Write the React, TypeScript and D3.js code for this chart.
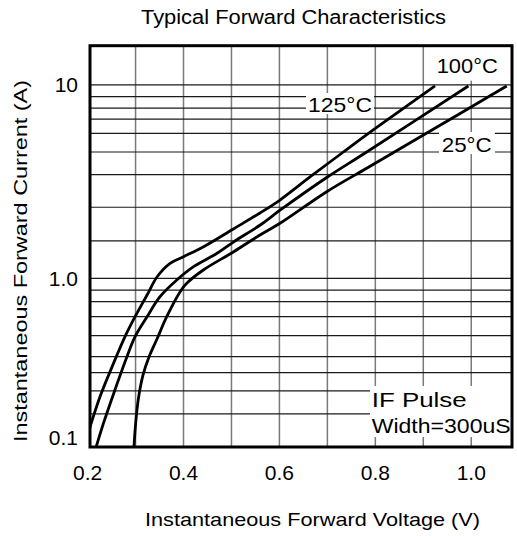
import React from "react";
import * as d3 from "d3";

// ---- data ----
const volt125 = [0.2, 0.226, 0.254, 0.278, 0.299, 0.324, 0.345, 0.372, 0.4, 0.442, 0.504, 0.5595, 0.6012, 0.6638, 0.7333, 0.8029, 0.9245];
const amp125 = [0.118, 0.199, 0.313, 0.451, 0.592, 0.796, 1.019, 1.196, 1.293, 1.457, 1.8, 2.177, 2.54, 3.342, 4.5, 6.03, 9.88];

const volt100 = [0.214, 0.233, 0.257, 0.282, 0.299, 0.324, 0.351, 0.386, 0.421, 0.47, 0.504, 0.56, 0.602, 0.6986, 0.782, 0.994];
const amp100 = [0.092, 0.138, 0.218, 0.343, 0.451, 0.592, 0.778, 0.977, 1.148, 1.347, 1.54, 1.887, 2.256, 3.32, 4.5, 9.88];

const volt25 = [0.2951, 0.2999, 0.3061, 0.3155, 0.328, 0.3447, 0.365, 0.393, 0.4067, 0.4413, 0.5039, 0.5595, 0.6012, 0.6986, 0.782, 0.8932, 1.074];
const amp25 = [0.0837, 0.135, 0.1952, 0.267, 0.3416, 0.4367, 0.592, 0.833, 0.934, 1.104, 1.368, 1.675, 1.925, 2.805, 3.71, 5.38, 9.88];

const xTicks = [0.2, 0.4, 0.6, 0.8, 1.0];
const xTickLabels = ["0.2", "0.4", "0.6", "0.8", "1.0"];
const xGrid = [0.3, 0.4, 0.5, 0.6, 0.7, 0.8, 0.9, 1.0];
const yTicks = [10, 1, 0.1];
const yTickLabels = ["10", "1.0", "0.1"];
// horizontal grid lines as drawn in the reference
const yGrid = [10, 8.7, 7.58, 6.65, 5.62, 4.5, 3.44, 2.33, 1.56, 1, 0.852, 0.727, 0.592, 0.457, 0.343, 0.276, 0.215, 0.157];

const seriesLabels = ["125°C", "100°C", "25°C"];

const W = 517;
const H = 536;
const left = 90, right = 512, top = 45.7, bottom = 447;

export default function App() {
  const x = d3.scaleLinear().domain([0.205, 1.085]).range([left, right]);
  const yLin = d3.scaleLinear().domain([-1, 0, 1.203]).range([bottom, 278.3, top]);
  const y = (v: number) => yLin(Math.log10(v));

  const line = d3
    .line<[number, number]>()
    .x((d) => x(d[0]))
    .y((d) => y(d[1]))
    .curve(d3.curveCatmullRom.alpha(0.5));

  const series = [
    volt125.map((v, i) => [v, amp125[i]] as [number, number]),
    volt100.map((v, i) => [v, amp100[i]] as [number, number]),
    volt25.map((v, i) => [v, amp25[i]] as [number, number]),
  ];

  const font = "'Liberation Sans', Arial, Helvetica, sans-serif";

  return (
    <svg width={W} height={H} style={{ position: "absolute", left: 0, top: 0, display: "block" }} fontFamily={font}>
      <rect x={0} y={0} width={W} height={H} fill="#fff" />
      <defs>
        <clipPath id="plotclip">
          <rect x={left} y={top} width={right - left} height={bottom - top} />
        </clipPath>
      </defs>
      <text x={293.5} y={23.5} fontSize={20} textAnchor="middle" textLength={305} lengthAdjust="spacingAndGlyphs">
        Typical Forward Characteristics
      </text>

      {/* grid */}
      <g>
        {xGrid.map((v) => (
          <line key={"vx" + v} x1={x(v)} x2={x(v)} y1={top} y2={bottom} stroke="#7a7a7a" strokeWidth={1.5} />
        ))}
        {yGrid.map((v) => (
          <line key={"hy" + v} x1={left} x2={right} y1={y(v)} y2={y(v)} stroke="#1a1a1a" strokeWidth={1.2} />
        ))}
      </g>

      {/* white label backgrounds */}
      <rect x={434} y={top + 1} width={66} height={34} fill="#fff" />
      <rect x={306} y={93} width={68} height={21} fill="#fff" />
      <rect x={439} y={132} width={56} height={22} fill="#fff" />
      <rect x={370} y={386} width={right - 370} height={51} fill="#fff" />

      {/* curves */}
      <g clipPath="url(#plotclip)">
        {series.map((s, i) => (
          <path key={i} d={line(s) || ""} fill="none" stroke="#000" strokeWidth={2.8} strokeLinejoin="round" />
        ))}
      </g>

      {/* frame */}
      <rect x={left} y={top} width={right - left} height={bottom - top} fill="none" stroke="#000" strokeWidth={3} />

      {/* series labels */}
      <text x={308} y={111.5} fontSize={21} textLength={64} lengthAdjust="spacingAndGlyphs">{seriesLabels[0]}</text>
      <text x={436.7} y={73.3} fontSize={21} textLength={61} lengthAdjust="spacingAndGlyphs">{seriesLabels[1]}</text>
      <text x={441.7} y={151.5} fontSize={21} textLength={50} lengthAdjust="spacingAndGlyphs">{seriesLabels[2]}</text>

      <text x={371.7} y={406.7} fontSize={21} textLength={95} lengthAdjust="spacingAndGlyphs">IF Pulse</text>
      <text x={371.7} y={433} fontSize={21} textLength={139} lengthAdjust="spacingAndGlyphs">Width=300uS</text>

      {/* y tick labels */}
      {yTicks.map((v, i) => (
        <text key={"yt" + v} x={78} y={y(v) + (i === 2 ? -2 : 7.5)} fontSize={21} textAnchor="end">
          {yTickLabels[i]}
        </text>
      ))}
      {/* x tick labels */}
      {xTicks.map((v, i) => (
        <text key={"xt" + v} x={x(v)} y={480} fontSize={21} textAnchor="middle">
          {xTickLabels[i]}
        </text>
      ))}

      <text x={312.5} y={526} fontSize={19} textAnchor="middle" textLength={335} lengthAdjust="spacingAndGlyphs">
        Instantaneous Forward Voltage (V)
      </text>
      <text
        transform={`translate(26.5,261) rotate(-90)`}
        fontSize={18}
        textAnchor="middle"
        textLength={362}
        lengthAdjust="spacingAndGlyphs"
      >
        Instantaneous Forward Current (A)
      </text>
    </svg>
  );
}
